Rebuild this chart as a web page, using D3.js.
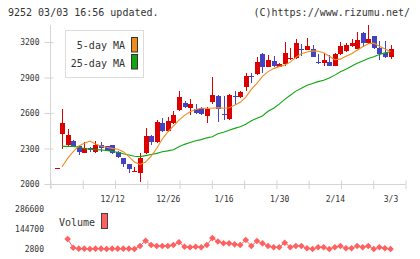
<!DOCTYPE html>
<html>
<head>
<meta charset="utf-8">
<script src="https://cdnjs.cloudflare.com/ajax/libs/d3/7.8.5/d3.min.js"></script>
<style>
body { margin: 0; background: #fff; }
svg { display: block; font-family: "DejaVu Sans Mono", monospace; }
</style>
</head>
<body>
<div id="chart"></div>
<script>
// daily bars, 11/28 .. 3/3
var dates = ["11/28","11/29","12/2","12/3","12/4","12/5","12/6","12/9","12/10","12/11",
	"12/12","12/13","12/16","12/17","12/18","12/19","12/20","12/23","12/24","12/25",
	"12/26","12/27","12/30","1/6","1/7","1/8","1/9","1/10","1/14","1/15",
	"1/16","1/17","1/20","1/21","1/22","1/23","1/24","1/27","1/28","1/29",
	"1/30","1/31","2/3","2/4","2/5","2/6","2/7","2/10","2/12","2/13",
	"2/14","2/17","2/18","2/19","2/20","2/21","2/25","2/26","2/27","2/28","3/3"];

var open  = [2133,2425,2330,2363,2321,2265,2307,2270,2327,2321,2327,2273,2217,2169,2108,2096,2265,2406,2358,2518,
	2451,2518,2625,2687,2645,2637,2642,2577,2696,2743,2592,2546,2746,2732,2823,2913,2930,3098,2992,3037,
	2992,3011,3056,3062,3144,3135,3141,3028,3025,3031,3000,3096,3124,3166,3144,3273,3191,3251,3149,3107,3073];
var high  = [2133,2634,2465,2372,2325,2355,2310,2366,2355,2325,2330,2278,2220,2172,2140,2265,2473,2414,2541,2558,
	2569,2620,2789,2704,2715,2676,2648,2654,2901,2752,2743,2760,2789,2789,2941,2935,3070,3104,3090,3082,
	3020,3197,3146,3225,3180,3231,3175,3098,3110,3090,3104,3197,3194,3222,3285,3285,3344,3251,3208,3208,3175];
var low   = [2133,2300,2320,2310,2245,2262,2273,2265,2273,2280,2250,2220,2146,2096,2100,2020,2250,2330,2350,2440,
	2440,2510,2620,2640,2583,2595,2585,2518,2680,2524,2541,2540,2668,2725,2789,2851,2920,2935,2985,2990,
	2985,3000,3050,3055,3085,3130,3070,3014,2997,2995,2995,3090,3118,3160,3140,3160,3185,3140,3048,3065,3056];
var close = [2133,2518,2417,2315,2273,2307,2287,2327,2301,2282,2259,2225,2169,2130,2112,2222,2406,2358,2527,2451,
	2532,2583,2732,2654,2676,2600,2592,2631,2752,2631,2583,2752,2743,2777,2913,2901,3034,2992,3048,3000,
	3014,3107,3062,3189,3135,3166,3076,3022,3048,3000,3098,3166,3175,3191,3217,3194,3225,3149,3098,3073,3141];

var ma5  = [null,2146,2217,2273,2321,2344,2363,2338,2321,2310,2301,2293,2273,2231,2185,2165,2185,2235,2300,2380,
	2440,2490,2540,2580,2610,2630,2640,2640,2640,2645,2640,2645,2665,2690,2735,2800,2850,2910,2950,2975,
	2992,3005,3030,3070,3100,3115,3125,3122,3110,3080,3050,3055,3080,3100,3130,3160,3185,3190,3165,3140,3120];
var ma25 = [null,2318,2318,2318,2310,2300,2295,2290,2288,2283,2275,2268,2255,2245,2235,2231,2240,2250,2259,2273,
	2280,2290,2315,2335,2350,2366,2375,2390,2400,2425,2437,2455,2470,2484,2505,2535,2555,2575,2615,2640,
	2675,2715,2750,2785,2810,2835,2850,2865,2877,2895,2920,2948,2970,2995,3020,3040,3060,3075,3095,3108,3118];

var volume = [null,null,73750,12000,5000,5000,2800,5000,5000,2800,5000,5000,5000,5000,2800,24100,61700,31200,24100,24100,
	24100,31200,50300,19100,14900,19100,14900,31200,80000,56000,44000,43000,36000,31200,66700,24100,59500,43000,24100,14900,
	14900,47500,14900,24100,24100,7800,2800,14900,14900,2800,14900,24100,7800,7800,24100,14900,24100,2800,14900,7800,2800];

var priceTicks = [2000, 2300, 2600, 2900, 3200];
var volTicks = [2800, 144700, 286600];
var dateLabels = ["12/12","12/26","1/16","1/30","2/14","3/3"];

var svg = d3.select("#chart").append("svg")
	.attr("width", 420)
	.attr("height", 259);

svg.append("rect").attr("width", 420).attr("height", 259).attr("fill", "#fff");

var x = d3.scalePoint().domain(dates).range([56.5, 390.5]);
var y = d3.scaleLinear().domain([2000, 3200]).range([184, 42]);
var vy = d3.scaleLinear().domain([2800, 286600]).range([249, 209]);
var grid = d3.scaleLinear().domain([0, 11]).range([50.5, 405.5]);

// header
svg.append("text").attr("x", 8).attr("y", 15.5)
	.attr("font-size", 10).attr("fill", "#333")
	.text("9252 03/03 16:56 updated.");
svg.append("text").attr("x", 410).attr("y", 15.5)
	.attr("font-size", 10).attr("fill", "#333").attr("text-anchor", "end")
	.text("(C)https://www.rizumu.net/");

// frame
svg.append("line").attr("x1", 50.5).attr("x2", 50.5).attr("y1", 25).attr("y2", 188)
	.attr("stroke", "#d4d4d4");
svg.append("line").attr("x1", 45).attr("x2", 405.5).attr("y1", 184.5).attr("y2", 184.5)
	.attr("stroke", "#d4d4d4");

var gx = svg.append("g").attr("transform", "translate(0,184.5)")
	.call(d3.axisBottom(grid).tickValues(d3.range(12)).tickFormat("").tickSize(4.5));
gx.select(".domain").remove();
gx.selectAll(".tick line").attr("y1", -4).attr("stroke", "#d4d4d4");

var gy = svg.append("g").attr("transform", "translate(50.5,0)")
	.call(d3.axisLeft(y).tickValues(priceTicks).tickSize(0).tickPadding(11).tickFormat(d3.format("d")));
gy.select(".domain").remove();
gy.selectAll(".tick line").attr("x1", -6).attr("x2", 3).attr("stroke", "#d4d4d4");
gy.selectAll("text").attr("font-size", 8).attr("fill", "#333").attr("font-family", "DejaVu Sans Mono");

var gd = svg.append("g").attr("transform", "translate(0,192)")
	.call(d3.axisBottom(x).tickValues(dateLabels).tickSize(0).tickPadding(4));
gd.select(".domain").remove();
gd.selectAll("text").attr("font-size", 8).attr("fill", "#333").attr("font-family", "DejaVu Sans Mono");

// candles
var idx = d3.range(dates.length);
var up = function(i) { return close[i] >= open[i]; };
var col = function(i) { return up(i) ? "#dd0000" : "#4343c1"; };

var candles = svg.append("g").attr("shape-rendering", "crispEdges");
candles.selectAll("line.wick")
	.data(idx)
	.enter().append("line")
	.attr("class", "wick")
	.attr("x1", function(i) { return Math.round(x(dates[i])) + 0.5; })
	.attr("x2", function(i) { return Math.round(x(dates[i])) + 0.5; })
	.attr("y1", function(i) { return y(high[i]); })
	.attr("y2", function(i) { return y(low[i]); })
	.attr("stroke", col);
candles.selectAll("rect.body")
	.data(idx)
	.enter().append("rect")
	.attr("class", "body")
	.attr("x", function(i) { return Math.round(x(dates[i])) - 2; })
	.attr("width", 5)
	.attr("y", function(i) { return y(Math.max(open[i], close[i])); })
	.attr("height", function(i) { return Math.max(1, Math.abs(y(open[i]) - y(close[i]))); })
	.attr("fill", col);

// moving averages
var maLine = function(arr) {
	return d3.line()
		.defined(function(i) { return arr[i] != null; })
		.x(function(i) { return x(dates[i]); })
		.y(function(i) { return y(arr[i]); });
};
svg.append("path").attr("d", maLine(ma25)(idx))
	.attr("fill", "none").attr("stroke", "#11a611").attr("stroke-width", 1.1);
svg.append("path").attr("d", maLine(ma5)(idx))
	.attr("fill", "none").attr("stroke", "#f08c1e").attr("stroke-width", 1.1);

// legend
var lg = svg.append("g");
lg.append("rect").attr("x", 65.5).attr("y", 30.5).attr("width", 78).attr("height", 47)
	.attr("fill", "#fff").attr("stroke", "#dcdcdc");
lg.append("text").attr("x", 125).attr("y", 49.3).attr("text-anchor", "end")
	.attr("font-size", 10).attr("fill", "#333").text("5-day MA");
lg.append("text").attr("x", 125).attr("y", 66.7).attr("text-anchor", "end")
	.attr("font-size", 10).attr("fill", "#333").text("25-day MA");
lg.append("rect").attr("x", 131.5).attr("y", 37.5).attr("width", 6).attr("height", 14.5)
	.attr("fill", "#f08c1e").attr("stroke", "#333");
lg.append("rect").attr("x", 131.5).attr("y", 54.5).attr("width", 6).attr("height", 14.5)
	.attr("fill", "#11a611").attr("stroke", "#333");

// volume
var gv = svg.append("g").attr("transform", "translate(44,0)")
	.call(d3.axisLeft(vy).tickValues(volTicks).tickSize(0).tickPadding(0).tickFormat(d3.format("d")));
gv.select(".domain").remove();
gv.selectAll("text").attr("font-size", 8).attr("fill", "#333").attr("font-family", "DejaVu Sans Mono");

svg.append("text").attr("x", 59).attr("y", 226).attr("font-size", 10).attr("fill", "#333").text("Volume");
svg.append("rect").attr("x", 101.5).attr("y", 213.5).attr("width", 6).attr("height", 15)
	.attr("fill", "#ff6060").attr("stroke", "#444");

var vIdx = idx.filter(function(i) { return volume[i] != null; });
svg.append("path")
	.attr("d", d3.line()
		.x(function(i) { return x(dates[i]); })
		.y(function(i) { return vy(volume[i]); })(vIdx))
	.attr("fill", "none").attr("stroke", "#ff6060").attr("stroke-width", 1);
svg.selectAll("path.vol")
	.data(vIdx)
	.enter().append("path")
	.attr("class", "vol")
	.attr("d", d3.symbol(d3.symbolSquare, 22))
	.attr("transform", function(i) { return "translate(" + x(dates[i]) + "," + vy(volume[i]) + ") rotate(45)"; })
	.attr("fill", "#ff6060");
</script>
</body>
</html>
